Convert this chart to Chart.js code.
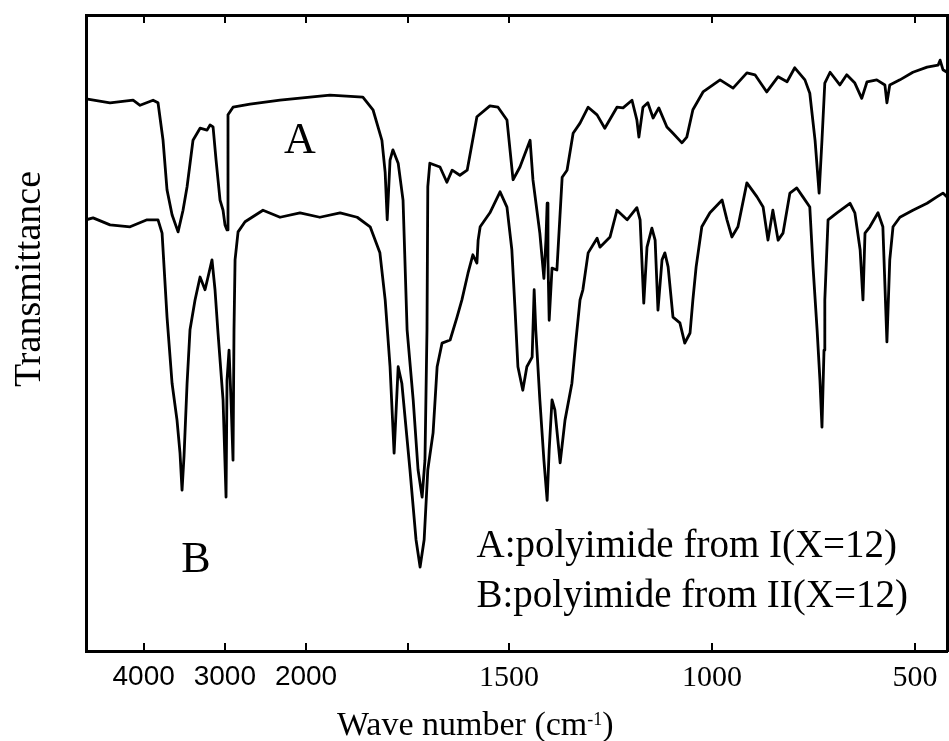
<!DOCTYPE html>
<html>
<head>
<meta charset="utf-8">
<title>IR spectra of polyimides</title>
<script src="https://cdn.jsdelivr.net/npm/chart.js@4.4.1/dist/chart.umd.min.js"></script>
<style>
  html, body { margin: 0; padding: 0; background: #fff; }
  #irChart { display: block; }
</style>
</head>
<body>
<canvas id="irChart" width="949" height="741"></canvas>
<script>
// wave numbers (cm-1) and transmittance
const waveA = [
  4709, 4414, 4130, 4044, 3884, 3823, 3761, 3712, 3650, 3576,
  3515, 3465, 3392, 3305, 3219, 3182, 3145, 3108, 3059, 3022,
  2998, 2973, 2961, 2899, 2690, 2320, 1941, 1860, 1835, 1813,
  1805, 1800, 1793, 1786, 1773, 1761, 1751, 1736, 1724, 1714,
  1707, 1702, 1700, 1695, 1670, 1653, 1640, 1621, 1603, 1579,
  1547, 1527, 1505, 1490, 1473, 1448, 1441, 1424, 1414, 1409,
  1406, 1404, 1401, 1394, 1382, 1369, 1357, 1342, 1325, 1305,
  1283, 1264, 1234, 1219, 1197, 1185, 1180, 1170, 1158, 1145,
  1131, 1111, 1096, 1074, 1062, 1047, 1022, 980, 948, 914,
  894, 865, 837, 815, 796, 771, 759, 746, 736, 729,
  722, 709, 685, 668, 648, 631, 618, 594, 574, 569,
  562, 537, 505, 470, 443, 438, 431, 421,
];
const transA = [
  86.8, 86.2, 86.6, 85.8, 86.6, 86.2, 80.3, 72.5, 68.6, 65.9,
  69.3, 73.0, 80.3, 82.2, 81.9, 82.7, 82.4, 77.2, 70.9, 69.3,
  67.0, 66.2, 84.3, 85.5, 86.0, 86.6, 87.4, 87.1, 85.1, 80.3,
  75.2, 67.8, 77.2, 78.8, 76.7, 70.9, 50.5, 39.5, 28.5, 24.2,
  30.0, 50.5, 73.0, 76.7, 76.1, 73.7, 75.6, 74.8, 75.6, 84.0,
  85.7, 85.5, 83.5, 74.1, 76.1, 80.3, 74.1, 65.7, 58.6, 64.6,
  70.4, 61.5, 52.0, 60.2, 59.9, 74.5, 75.6, 81.4, 83.0, 85.5,
  84.3, 82.2, 85.5, 85.4, 86.6, 83.5, 80.8, 85.5, 86.2, 83.8,
  85.4, 82.4, 81.4, 79.9, 80.8, 85.1, 87.9, 89.8, 88.5, 90.9,
  90.6, 87.9, 90.3, 89.5, 91.7, 89.8, 87.7, 80.3, 72.0, 80.3,
  89.3, 91.0, 89.0, 90.6, 89.3, 86.9, 89.5, 89.8, 89.0, 86.2,
  89.0, 89.8, 91.0, 91.8, 92.1, 92.9, 91.4, 91.0,
];

const waveB = [
  4709, 4623, 4414, 4167, 3958, 3823, 3773, 3712, 3650, 3589,
  3552, 3527, 3502, 3465, 3429, 3367, 3305, 3244, 3207, 3158,
  3121, 3084, 3022, 2985, 2973, 2948, 2924, 2899, 2887, 2874,
  2837, 2751, 2530, 2320, 2074, 1966, 1916, 1874, 1842, 1818,
  1805, 1793, 1783, 1773, 1764, 1744, 1729, 1719, 1709, 1700,
  1687, 1677, 1665, 1645, 1628, 1616, 1601, 1589, 1579, 1576,
  1571, 1547, 1522, 1505, 1493, 1485, 1478, 1466, 1456, 1443,
  1438, 1434, 1424, 1414, 1406, 1401, 1394, 1387, 1374, 1362,
  1345, 1335, 1325, 1318, 1305, 1283, 1276, 1251, 1234, 1209,
  1185, 1177, 1168, 1160, 1148, 1140, 1133, 1123, 1116, 1108,
  1096, 1079, 1067, 1054, 1047, 1039, 1025, 1005, 975, 963,
  951, 936, 914, 889, 874, 862, 850, 837, 825, 808,
  791, 776, 759, 751, 741, 734, 729, 724, 722, 714,
  692, 660, 648, 635, 628, 623, 611, 591, 579, 569,
  562, 554, 537, 505, 470, 446, 431, 421,
];
const transB = [
  67.8, 68.1, 67.0, 66.7, 67.8, 67.8, 65.7, 52.5, 42.1, 36.3,
  31.1, 25.3, 30.8, 42.1, 50.5, 55.2, 58.8, 56.8, 58.8, 61.5,
  56.8, 50.0, 39.5, 24.2, 42.6, 47.3, 39.5, 30.0, 50.5, 61.5,
  65.9, 67.5, 69.3, 68.2, 68.9, 68.2, 68.9, 68.2, 66.7, 62.6,
  55.2, 44.7, 31.1, 44.7, 42.1, 28.5, 17.5, 13.2, 17.5, 28.5,
  34.3, 44.7, 48.4, 48.9, 52.5, 55.2, 59.4, 62.3, 61.0, 64.6,
  66.7, 68.9, 72.2, 69.8, 63.1, 53.6, 44.7, 41.0, 44.7, 46.2,
  56.8, 50.5, 39.5, 30.0, 23.7, 31.6, 39.5, 37.9, 29.6, 36.3,
  42.1, 48.9, 55.2, 56.8, 62.6, 64.9, 63.5, 65.1, 69.3, 67.8,
  69.7, 67.8, 54.7, 63.5, 66.5, 64.6, 53.6, 61.5, 62.6, 60.4,
  52.5, 51.6, 48.4, 50.0, 55.2, 60.4, 66.7, 68.9, 70.9, 67.8,
  65.1, 66.7, 73.6, 71.4, 69.8, 64.6, 69.3, 64.6, 65.7, 72.0,
  72.8, 71.4, 69.8, 60.4, 50.5, 42.6, 35.2, 47.3, 55.2, 67.8,
  68.9, 70.4, 68.9, 63.1, 55.2, 65.7, 66.7, 68.9, 66.7, 48.6,
  61.5, 66.7, 68.2, 69.3, 70.4, 71.4, 72.0, 71.4,
];

const tickWaves = [4000, 3000, 2000, 1750, 1500, 1000, 500];
const tickLabels = ["4000", "3000", "2000", "", "1500", "1000", "500"];
const seriesNames = ["A:polyimide from I(X=12)", "B:polyimide from II(X=12)"];

// the part above 2000 cm-1 is drawn 5 times compressed
function axisPos(wave) {
  if (wave <= 2000) return 2000 - wave;
  return -(wave - 2000) * 0.2;
}

function toPoints(waves, trans) {
  return waves.map((w, i) => ({ x: axisPos(w), y: trans[i] }));
}

function setTicks(scale) {
  scale.ticks = tickWaves.map((w) => ({ value: axisPos(w) }));
}

// keep the frame fixed, labels may hang over the edges
function fixHeight(h) {
  return (s) => {
    s.height = h;
    s.paddingLeft = 0;
    s.paddingRight = 0;
  };
}

function tickFont(c) {
  if (c.index < 3) return { family: "'Liberation Sans', sans-serif", size: 28 };
  return { family: "'Liberation Serif', serif", size: 30 };
}

const serif = "'Liberation Serif', 'Times New Roman', serif";

const textPlugin = {
  id: "spectrumText",
  afterDraw(chart) {
    const ctx = chart.ctx;
    const x = chart.scales.x;
    const y = chart.scales.y;
    ctx.save();
    ctx.fillStyle = "#000";
    ctx.textBaseline = "alphabetic";

    ctx.font = "44px " + serif;
    ctx.textAlign = "center";
    ctx.fillText("A", x.getPixelForValue(axisPos(2075)), y.getPixelForValue(78.3));
    ctx.fillText("B", x.getPixelForValue(axisPos(3355)), y.getPixelForValue(12.4));

    ctx.font = "39px " + serif;
    ctx.textAlign = "left";
    const legendX = x.getPixelForValue(axisPos(1580));
    ctx.fillText(seriesNames[0], legendX, y.getPixelForValue(14.8));
    ctx.fillText(seriesNames[1], legendX, y.getPixelForValue(6.9));

    // y axis title
    ctx.save();
    ctx.translate(40, 279);
    ctx.rotate(-Math.PI / 2);
    ctx.font = "38px " + serif;
    ctx.textAlign = "center";
    ctx.fillText("Transmittance", 0, 0);
    ctx.restore();

    // x axis title with superscript
    const base = 735;
    let tx = 337;
    ctx.textAlign = "left";
    ctx.font = "34px " + serif;
    ctx.fillText("Wave number (cm", tx, base);
    tx += ctx.measureText("Wave number (cm").width;
    ctx.font = "18px " + serif;
    ctx.fillText("-1", tx, base - 10);
    tx += ctx.measureText("-1").width;
    ctx.font = "34px " + serif;
    ctx.fillText(")", tx, base);
    ctx.restore();
  },
};

const frameBorder = { display: true, color: "#000", width: 3 };

new Chart(document.getElementById("irChart"), {
  type: "line",
  data: {
    datasets: [
      {
        label: seriesNames[0],
        data: toPoints(waveA, transA),
        xAxisID: "x",
        yAxisID: "y",
      },
      {
        label: seriesNames[1],
        data: toPoints(waveB, transB),
        xAxisID: "x",
        yAxisID: "y",
      },
    ],
  },
  options: {
    responsive: false,
    animation: false,
    devicePixelRatio: 1,
    layout: { padding: 0 },
    elements: {
      point: { radius: 0 },
      line: {
        borderColor: "#000",
        borderWidth: 2.8,
        borderJoinStyle: "round",
        tension: 0,
        fill: false,
      },
    },
    plugins: {
      legend: { display: false },
      tooltip: { enabled: false },
    },
    scales: {
      x: {
        type: "linear",
        position: "bottom",
        min: -542,
        max: 1579,
        afterBuildTicks: setTicks,
        afterFit: fixHeight(90),
        grid: { drawOnChartArea: false, color: "#000", lineWidth: 2, tickLength: -8 },
        border: frameBorder,
        ticks: {
          autoSkip: false,
          maxRotation: 0,
          padding: 17,
          color: "#000",
          font: tickFont,
          callback: (v, i) => tickLabels[i],
        },
      },
      xTop: {
        type: "linear",
        position: "top",
        min: -542,
        max: 1579,
        afterBuildTicks: setTicks,
        afterFit: fixHeight(15),
        grid: { drawOnChartArea: false, color: "#000", lineWidth: 2, tickLength: -8 },
        border: frameBorder,
        ticks: { display: false },
      },
      y: {
        position: "left",
        min: 0,
        max: 100,
        afterFit: (s) => { s.width = 86; },
        grid: { display: false },
        border: frameBorder,
        ticks: { display: false },
      },
      yRight: {
        position: "right",
        min: 0,
        max: 100,
        afterFit: (s) => { s.width = 2; },
        grid: { display: false },
        border: frameBorder,
        ticks: { display: false },
      },
    },
  },
  plugins: [textPlugin],
});
</script>
</body>
</html>
